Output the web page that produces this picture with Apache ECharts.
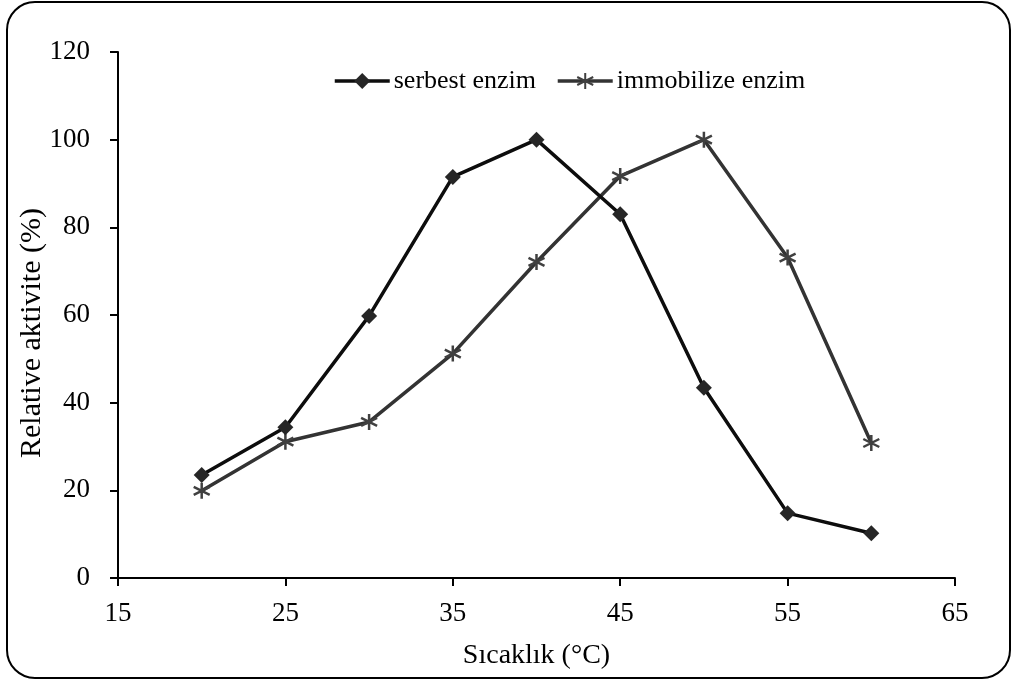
<!DOCTYPE html>
<html>
<head>
<meta charset="utf-8">
<script src="https://cdn.jsdelivr.net/npm/echarts@6/dist/echarts.min.js"></script>
<style>
html,body{margin:0;padding:0;background:#fff;}
#chart{width:1014px;height:684px;}
</style>
</head>
<body>
<div id="chart"></div>
<script>
var temperatures = [20, 25, 30, 35, 40, 45, 50, 55, 60];
var serbestEnzim = [23.5, 34.4, 59.8, 91.5, 100, 83.0, 43.4, 14.8, 10.2];
var immobilizeEnzim = [19.9, 31.1, 35.6, 51.2, 72.1, 91.7, 100, 73.1, 30.8];
var seriesNames = ['serbest enzim', 'immobilize enzim'];
var xTitle = 'Sıcaklık (°C)';
var yTitle = 'Relative aktivite (%)';

function pairs(xs, ys) { return xs.map(function (x, i) { return [x, ys[i]]; }); }

var FONT = 'Liberation Serif';
var asterisk = 'path://M5,0L5,10M0.7,2.5L9.3,7.5M0.7,7.5L9.3,2.5';

var chart = echarts.init(document.getElementById('chart'), null, {renderer: 'canvas'});
chart.setOption({
  animation: false,
  backgroundColor: '#fff',
  textStyle: {fontFamily: FONT},
  graphic: [{
    type: 'rect',
    shape: {x: 7, y: 2, width: 1003, height: 676, r: 28},
    style: {fill: 'none', stroke: '#000', lineWidth: 2},
    silent: true
  }],
  grid: {left: 118, right: 59, top: 52, bottom: 106},
  legend: {
    top: 63,
    left: 328,
    itemWidth: 55,
    itemHeight: 20,
    itemGap: 20,
    lineStyle: {width: 3.5},
    textStyle: {fontFamily: FONT, fontSize: 26, color: '#000', padding: [0, 0, 0, -1]},
    data: seriesNames
  },
  xAxis: {
    type: 'value',
    min: 15, max: 65, interval: 10,
    name: xTitle,
    nameLocation: 'middle',
    nameGap: 64,
    nameMoveOverlap: false,
    nameTextStyle: {fontFamily: FONT, fontSize: 28, color: '#000'},
    axisLine: {show: true, lineStyle: {color: '#000', width: 2}},
    axisTick: {show: true, inside: false, length: 8, lineStyle: {color: '#000', width: 2}},
    axisLabel: {fontFamily: FONT, fontSize: 27, color: '#000', margin: 22},
    splitLine: {show: false}
  },
  yAxis: {
    type: 'value',
    min: 0, max: 120, interval: 20,
    name: yTitle,
    nameLocation: 'middle',
    nameGap: 71,
    nameMoveOverlap: false,
    nameTextStyle: {fontFamily: FONT, fontSize: 30, color: '#000', padding: [0, 36, 0, 0]},
    axisLine: {show: true, lineStyle: {color: '#000', width: 2}},
    axisTick: {show: true, inside: false, length: 8, lineStyle: {color: '#000', width: 2}},
    axisLabel: {fontFamily: FONT, fontSize: 27, color: '#000', margin: 28},
    splitLine: {show: false}
  },
  series: [{
    name: seriesNames[0],
    type: 'line',
    data: pairs(temperatures, serbestEnzim),
    symbol: 'diamond',
    symbolSize: 16,
    showAllSymbol: true,
    lineStyle: {color: '#0d0d0d', width: 3.5},
    itemStyle: {color: '#262626', borderColor: '#262626', borderWidth: 0},
    emphasis: {disabled: true},
    z: 3
  }, {
    name: seriesNames[1],
    type: 'line',
    data: pairs(temperatures, immobilizeEnzim),
    symbol: asterisk,
    symbolSize: 16,
    showAllSymbol: true,
    lineStyle: {color: '#333333', width: 3.5},
    itemStyle: {color: 'rgba(0,0,0,0)', borderColor: '#404040', borderWidth: 2.5},
    emphasis: {disabled: true},
    z: 2
  }]
});
</script>
</body>
</html>
